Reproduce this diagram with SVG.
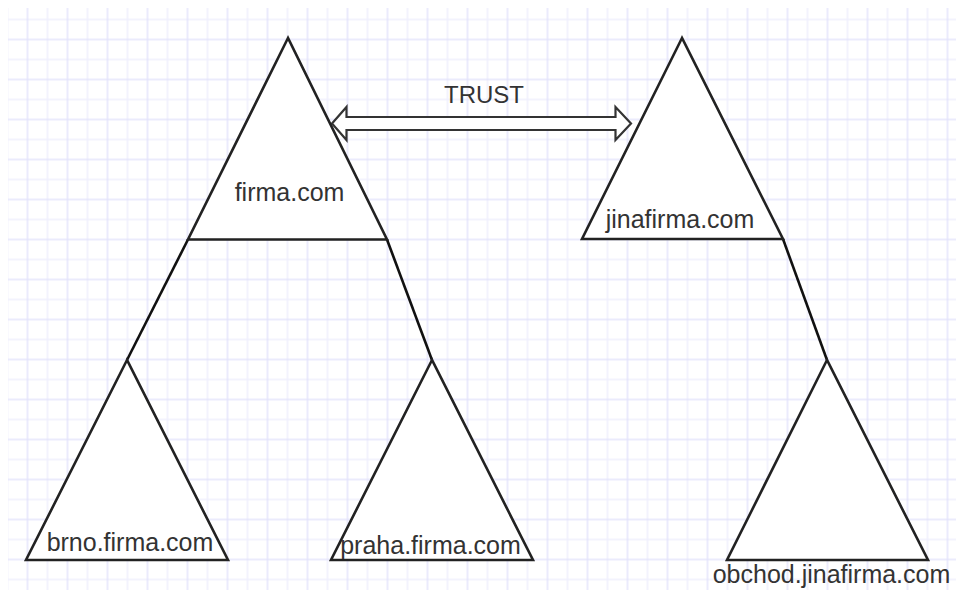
<svg xmlns="http://www.w3.org/2000/svg" width="956" height="590" viewBox="0 0 956 590">
  <style>
    .tri { fill: #ffffff; stroke: #222222; stroke-width: 2.6; stroke-linejoin: miter; }
    .conn { fill: none; stroke: #111111; stroke-width: 2.6; }
    .flow { fill: #ffffff; stroke: #333333; stroke-width: 2.2; stroke-linejoin: miter; }
    .lbl { font-family: "Liberation Sans", Arial, sans-serif; font-size: 25px; fill: #333333; text-anchor: middle; }
    .minor { stroke: #efeffd; stroke-width: 1.5; }
    .major { stroke: #e4e4fb; stroke-width: 1.5; }
  </style>
  <defs>
    <pattern id="grid" patternUnits="userSpaceOnUse" x="27.5" y="-0.5" width="40" height="40">
      <line class="minor" x1="20" y1="0" x2="20" y2="40"/>
      <line class="minor" x1="0" y1="20" x2="40" y2="20"/>
      <line class="major" x1="0" y1="-1" x2="0" y2="41"/>
      <line class="major" x1="40" y1="-1" x2="40" y2="41"/>
      <line class="major" x1="-1" y1="0" x2="41" y2="0"/>
      <line class="major" x1="-1" y1="40" x2="41" y2="40"/>
    </pattern>
  </defs>
  <rect width="956" height="590" fill="#ffffff"/>
  <rect x="8" y="8" width="948" height="582" fill="url(#grid)"/>

  <g id="connectors">
    <line class="conn" x1="188" y1="239.5" x2="127" y2="360"/>
    <line class="conn" x1="387" y1="239.5" x2="432" y2="360"/>
    <line class="conn" x1="783" y1="239" x2="827" y2="360"/>
    <g id="trust">
      <polygon class="flow" points="332,123.5 346.5,107 346.5,117 615.5,117 615.5,107 631,123.5 615.5,140 615.5,130 346.5,130 346.5,140"/>
      <text class="lbl" x="484" y="103" style="font-size:24px">TRUST</text>
    </g>
  </g>

  <g id="firma">
    <polygon class="tri" points="288,38 188,239.5 387,239.5"/>
    <text class="lbl" x="289.5" y="201">firma.com</text>
  </g>
  <g id="jinafirma">
    <polygon class="tri" points="682,38 582,239 783,239"/>
    <text class="lbl" x="680" y="228">jinafirma.com</text>
  </g>
  <g id="brno">
    <polygon class="tri" points="127,360 26,560 228,560"/>
    <text class="lbl" x="130" y="551">brno.firma.com</text>
  </g>
  <g id="praha">
    <polygon class="tri" points="432,360 331,560 533,560"/>
    <text class="lbl" x="430.5" y="554">praha.firma.com</text>
  </g>
  <g id="obchod">
    <polygon class="tri" points="827,360 727,560 928,560"/>
    <text class="lbl" x="831.5" y="583">obchod.jinafirma.com</text>
  </g>
</svg>
